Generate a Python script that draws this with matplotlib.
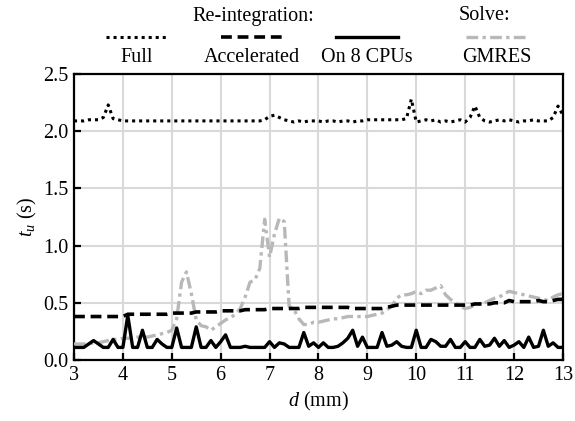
import matplotlib.pyplot as plt
from matplotlib.lines import Line2D
import numpy as np

plt.rcParams['font.family'] = ['Liberation Serif', 'DejaVu Serif']
plt.rcParams['mathtext.fontset'] = 'custom'
plt.rcParams['mathtext.rm'] = 'Liberation Serif'
plt.rcParams['mathtext.it'] = 'Liberation Serif:italic'

# distance d (mm), sampled every 0.1 mm
d = np.round(np.linspace(3, 13, 101), 1)

t_full = [2.09, 2.09, 2.09, 2.10, 2.10, 2.10, 2.12, 2.23, 2.11, 2.10,
          2.09, 2.09, 2.09, 2.09, 2.09, 2.09, 2.09, 2.09, 2.09, 2.09,
          2.09, 2.09, 2.09, 2.09, 2.09, 2.09, 2.09, 2.09, 2.09, 2.09,
          2.09, 2.09, 2.09, 2.09, 2.09, 2.09, 2.09, 2.09, 2.09, 2.10,
          2.13, 2.14, 2.12, 2.10, 2.09, 2.08, 2.09, 2.08, 2.09, 2.09,
          2.09, 2.08, 2.09, 2.09, 2.08, 2.09, 2.09, 2.08, 2.09, 2.09,
          2.10, 2.10, 2.10, 2.10, 2.10, 2.10, 2.10, 2.10, 2.11, 2.28,
          2.08, 2.09, 2.10, 2.09, 2.10, 2.08, 2.09, 2.08, 2.09, 2.10,
          2.08, 2.12, 2.22, 2.12, 2.09, 2.08, 2.09, 2.10, 2.09, 2.10,
          2.09, 2.08, 2.09, 2.09, 2.10, 2.09, 2.09, 2.09, 2.12, 2.22,
          2.14]

t_accel = [0.38] * 11 + [0.40] * 9 + [0.41] * 5 + [0.42] * 5 + [0.43] * 5 \
    + [0.44] * 5 + [0.45] * 5 + [0.45, 0.45, 0.46, 0.46, 0.46] \
    + [0.46] * 7 + [0.45] * 7 + [0.46, 0.47, 0.48] + [0.48] * 13 \
    + [0.48, 0.48, 0.49, 0.49, 0.49, 0.49] + [0.50] * 3 \
    + [0.52, 0.51, 0.51, 0.51, 0.51, 0.51, 0.52, 0.51, 0.51, 0.52, 0.53, 0.53]

t_cpu8 = [0.11, 0.11, 0.11, 0.14, 0.17, 0.14, 0.11, 0.11, 0.18, 0.11,
          0.11, 0.39, 0.11, 0.11, 0.26, 0.11, 0.11, 0.18, 0.14, 0.11,
          0.11, 0.28, 0.11, 0.11, 0.11, 0.29, 0.11, 0.11, 0.17, 0.11,
          0.16, 0.22, 0.11, 0.11, 0.11, 0.12, 0.11, 0.11, 0.11, 0.11,
          0.16, 0.11, 0.15, 0.14, 0.11, 0.11, 0.11, 0.24, 0.12, 0.15,
          0.11, 0.15, 0.11, 0.11, 0.12, 0.15, 0.19, 0.26, 0.12, 0.20,
          0.11, 0.11, 0.11, 0.24, 0.12, 0.13, 0.16, 0.12, 0.11, 0.11,
          0.26, 0.11, 0.11, 0.18, 0.16, 0.12, 0.12, 0.18, 0.11, 0.11,
          0.16, 0.11, 0.11, 0.18, 0.12, 0.13, 0.19, 0.12, 0.17, 0.11,
          0.13, 0.16, 0.11, 0.20, 0.11, 0.12, 0.26, 0.12, 0.15, 0.11,
          0.11]

t_gmres = [0.14, 0.14, 0.14, 0.14, 0.15, 0.15, 0.16, 0.17, 0.18, 0.18,
           0.19, 0.19, 0.19, 0.20, 0.20, 0.20, 0.21, 0.22, 0.23, 0.24,
           0.26, 0.36, 0.68, 0.77, 0.58, 0.35, 0.30, 0.29, 0.26, 0.29,
           0.32, 0.35, 0.37, 0.40, 0.45, 0.55, 0.68, 0.70, 0.80, 1.23,
           0.90, 1.10, 1.24, 1.21, 0.47, 0.44, 0.36, 0.31, 0.31, 0.33,
           0.33, 0.34, 0.35, 0.36, 0.36, 0.37, 0.38, 0.38, 0.38, 0.38,
           0.38, 0.39, 0.40, 0.41, 0.44, 0.47, 0.54, 0.57, 0.57, 0.58,
           0.60, 0.58, 0.61, 0.61, 0.63, 0.65, 0.57, 0.53, 0.50, 0.47,
           0.45, 0.46, 0.48, 0.49, 0.50, 0.52, 0.54, 0.55, 0.58, 0.60,
           0.59, 0.58, 0.57, 0.56, 0.55, 0.54, 0.53, 0.52, 0.55, 0.57,
           0.58]

labels = ['Full', 'Accelerated', 'On 8 CPUs', 'GMRES']
styles = [
    dict(color='black', lw=2.2, ls=(0, (1, 1.3))),
    dict(color='black', lw=2.6, ls=(0, (3, 1.6))),
    dict(color='black', lw=2.4, ls='-'),
    dict(color='#b8b8b8', lw=2.4, ls=(0, (3.5, 1.3, 1, 1.3))),
]

fig = plt.figure(figsize=(5.75, 4.21), dpi=100)
ax = fig.add_axes([0.1287, 0.1449, 0.979 - 0.1287, 0.8242 - 0.1449])

for series, st in zip([t_gmres, t_full, t_accel, t_cpu8], [styles[3], styles[0], styles[1], styles[2]]):
    ax.plot(d, series, **st, zorder=3)

ax.set_xlim(3, 13)
ax.set_ylim(0, 2.5)
ax.set_xticks(range(3, 14))
ax.set_yticks([0, 0.5, 1.0, 1.5, 2.0, 2.5])
ax.set_yticklabels(['0.0', '0.5', '1.0', '1.5', '2.0', '2.5'])
ax.grid(True, color='#d9d9d9', lw=1.5, zorder=0)
ax.set_axisbelow(True)
for sp in ax.spines.values():
    sp.set_linewidth(1.6)
ax.tick_params(direction='in', length=5, width=1.6, labelsize=14.5, pad=4)
ax.set_xlabel('$d$ (mm)', fontsize=14.5, labelpad=4)
ax.set_ylabel('$t_u$ (s)', fontsize=14.5, labelpad=3)

# legend above the axes: handle line with its label underneath
fw, fh = 575, 421
centers = [137, 252, 367, 497]
for cx, lab, st in zip(centers, labels, styles):
    y = 1 - 37 / fh
    fig.add_artist(Line2D([(cx - 31) / fw, (cx + 31) / fw], [y, y], transform=fig.transFigure, **st))
    fig.text(cx / fw, 1 - 57 / fh, lab, ha='center', va='center', fontsize=14.5)
fig.text(253 / fw, 1 - 16 / fh, 'Re-integration:', ha='center', va='center', fontsize=14.5)
fig.text(484 / fw, 1 - 16 / fh, 'Solve:', ha='center', va='center', fontsize=14.5)

fig.savefig('out.png', dpi=100)
